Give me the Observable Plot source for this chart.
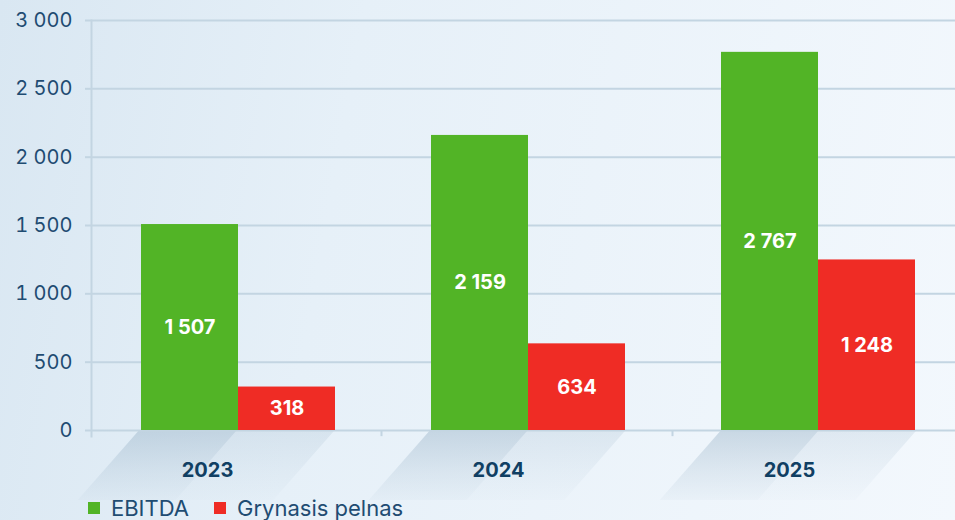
<!DOCTYPE html>
<html><head><meta charset="utf-8">
<script src="https://cdn.jsdelivr.net/npm/d3@7"></script>
<script src="https://cdn.jsdelivr.net/npm/@observablehq/plot@0.6"></script>
<style>
html,body{margin:0;padding:0;width:955px;height:520px;overflow:hidden;}
body{background:linear-gradient(100deg,#d9e7f2 0%,#e6f0f8 35%,#f3f8fd 100%);font-family:Inter,"Open Sans",sans-serif;position:relative;}
.layer{position:absolute;left:0;top:0;width:955px;height:500px;overflow:hidden;}
.layer svg{max-width:none !important;}
#legend{position:absolute;left:88px;top:496px;height:24px;display:flex;align-items:center;font-size:22px;line-height:22px;color:#1f4c72;white-space:nowrap;}
#legend .item{display:flex;align-items:center;margin-right:25px;}
#legend .sw{width:12px;height:12px;margin-right:11px;}
</style></head><body><div id="back" class="layer"></div><div id="front" class="layer"></div><div id="legend"></div>
<script>
const years = ["2023", "2024", "2025"];
const series = ["EBITDA", "Grynasis pelnas"];
const ebitda = [1507, 2159, 2767];
const pelnas = [318, 634, 1248];
const colors = ["#52b426", "#ef2c25"];
const yTicks = [0, 500, 1000, 1500, 2000, 2500, 3000];

const data = years.flatMap((y, i) => [
  {year: y, series: series[0], value: ebitda[i]},
  {year: y, series: series[1], value: pelnas[i]}
]);
const fmt = d3.formatLocale({thousands: " ", grouping: [3], decimal: ","}).format(",d");

const bandOpts = {domain: years, paddingInner: 0.328, paddingOuter: 0.169};
const common = {
  width: 964, height: 500,
  marginLeft: 91, marginRight: 0, marginTop: 20, marginBottom: 70,
  style: {background: "transparent", fontFamily: "Inter, 'Open Sans', sans-serif", overflow: "visible", maxWidth: "none"},
  y: {domain: [0, 3000], axis: null}
};
const gridColor = "#c3d5e2";

// decorative slanted shadows under each bar group (positioned by the x and y scales)
function shadows(index, scales) {
  const g = d3.create("svg:g");
  const defs = g.append("defs");
  const mk = (id, color, op) => {
    const lg = defs.append("linearGradient").attr("id", id).attr("x1", 0).attr("y1", 0).attr("x2", 0).attr("y2", 1);
    lg.append("stop").attr("offset", 0).attr("stop-color", color).attr("stop-opacity", op);
    lg.append("stop").attr("offset", 0.5).attr("stop-color", color).attr("stop-opacity", op * 0.45);
    lg.append("stop").attr("offset", 1).attr("stop-color", color).attr("stop-opacity", 0);
  };
  mk("shA", "#8aa7be", 0.38);
  mk("shB", "#9db6ca", 0.22);
  const step = scales.x(years[1]) - scales.x(years[0]);
  const bw = step * (1 - bandOpts.paddingInner);
  const y0 = scales.y(0), h = 82, off = 72;
  for (const yr of years) {
    const xc = scales.x(yr), x0 = xc - bw / 2, x1 = xc + bw / 2;
    g.append("path").attr("d", `M${x0},${y0}L${xc},${y0}L${xc - off},${y0 + h}L${x0 - off},${y0 + h}Z`).attr("fill", "url(#shA)");
    g.append("path").attr("d", `M${xc},${y0}L${x1},${y0}L${x1 - off},${y0 + h}L${xc - off},${y0 + h}Z`).attr("fill", "url(#shB)");
  }
  return g.node();
}

// background layer: grid, axes, year labels
const back = Plot.plot({
  ...common,
  x: {...bandOpts, axis: null},
  marks: [
    shadows,
    Plot.gridY(yTicks, {stroke: gridColor, strokeOpacity: 1, strokeWidth: 2}),
    Plot.axisY(yTicks, {tickSize: 6, tickPadding: 13, tickFormat: fmt, fontSize: 20, fill: "#1f4c72", stroke: gridColor, strokeWidth: 2, label: null}),
    Plot.frame({anchor: "left", stroke: gridColor, strokeWidth: 2, insetBottom: -6}),
    Plot.ruleX(years.slice(0, -1), {x: d => d, dx: 144, y1: 0, y2: -45, stroke: gridColor, strokeWidth: 2}),
    Plot.axisX(years, {anchor: "bottom", tickSize: 0, tickPadding: 32, dx: -30, fontSize: 20, fontWeight: 700, fill: "#103f63", label: null})
  ]
});
document.getElementById("back").appendChild(back);

// front layer: grouped bars
const front = Plot.plot({
  ...common,
  fx: {...bandOpts, axis: null, label: null},
  x: {domain: series, padding: 0, axis: null},
  color: {domain: series, range: colors},
  marks: [
    Plot.barY(data, {fx: "year", x: "series", y: "value", fill: "series"}),
    Plot.text(data, {fx: "year", x: "series", y: d => d.value / 2, text: d => fmt(d.value), fill: "white", fontWeight: 700, fontSize: 20})
  ]
});
document.getElementById("front").appendChild(front);

const legend = document.getElementById("legend");
series.forEach((s, i) => {
  const it = document.createElement("div");
  it.className = "item";
  it.innerHTML = `<span class="sw" style="background:${colors[i]}"></span><span>${s}</span>`;
  legend.appendChild(it);
});
</script>
</body></html>
